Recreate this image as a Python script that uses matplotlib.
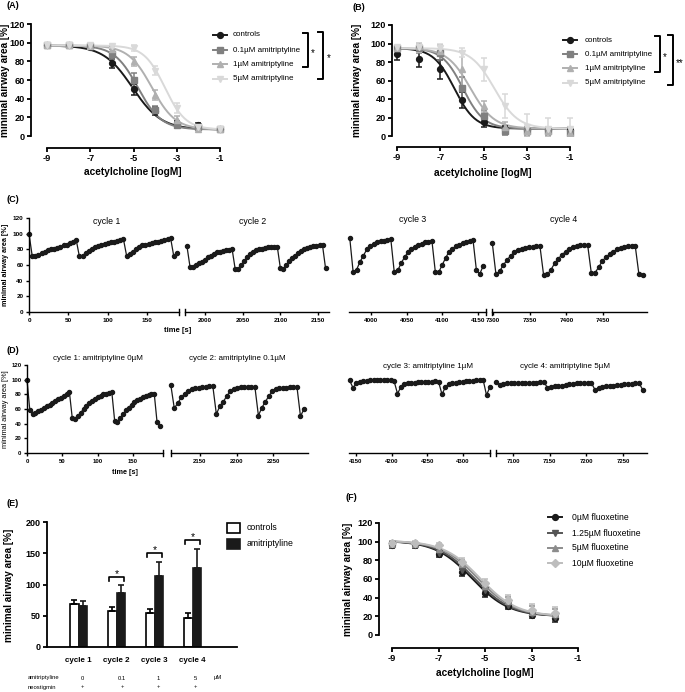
import numpy as np
import matplotlib
matplotlib.use('Agg')
import matplotlib.pyplot as plt
from matplotlib.lines import Line2D
from matplotlib.patches import Rectangle

plt.rcParams['font.family'] = ['Liberation Sans', 'DejaVu Sans']
plt.rcParams['axes.unicode_minus'] = False

# ---------- data ----------
conc = [-9, -8, -7, -6, -5, -4, -3, -2, -1]

# (A) dose response, amitriptyline
a_labels = ['controls', '0.1µM amitriptyline', '1µM amitriptyline', '5µM amitriptyline']
a_ctrl = [97, 97, 95, 78, 50, 27, 13, 12, 8]
a_ctrl_err = [1, 1, 2, 5, 6, 4, 3, 2, 2]
a_01 = [97, 97, 96, 88, 60, 28, 12, 10, 7]
a_01_err = [1, 1, 2, 5, 7, 4, 3, 3, 2]
a_1 = [97, 97, 96, 93, 80, 44, 17, 8, 7]
a_1_err = [1, 1, 2, 3, 5, 5, 4, 2, 2]
a_5 = [97, 97, 97, 96, 94, 70, 30, 10, 7]
a_5_err = [1, 1, 1, 2, 3, 5, 5, 3, 2]
# fit parameters: top, bottom, logEC50, hill slope
a_fits = [(97, 7, -5.05, 0.65), (97, 7, -4.8, 0.8), (97, 7, -4.15, 0.8), (97, 7, -3.55, 0.9)]

# (B) dose response
b_labels = ['controls', '0.1µM amitriptyline', '1µM amitriptyline', '5µM amitriptyline']
b_ctrl = [89, 83, 72, 39, 15, 8, 7, 7, 7]
b_ctrl_err = [7, 8, 10, 9, 5, 3, 3, 3, 3]
b_01 = [95, 95, 90, 52, 22, 5, 5, 5, 3]
b_01_err = [2, 5, 8, 12, 6, 4, 4, 4, 5]
b_1 = [95, 97, 92, 72, 32, 10, 5, 5, 3]
b_1_err = [2, 4, 6, 20, 6, 5, 5, 5, 5]
b_5 = [96, 96, 95, 90, 72, 32, 10, 8, 8]
b_5_err = [2, 5, 5, 5, 12, 13, 14, 12, 12]
b_fits = [(95, 8, -6.35, 0.9), (95, 8, -5.95, 0.9), (95, 8, -5.6, 0.8), (95, 8, -4.5, 0.8)]

# (C) airway traces, 4 cycles: start time, sampling step, values
c_t0 = [0, 1976, 3970, 7299]
c_dt = [4, 4, 4.8, 5]
c1_vals = [100,
           72, 72, 73, 75, 77, 79, 80, 81, 82, 83, 85, 86, 88, 90, 92,
           71, 72, 75, 78, 81, 83, 84, 86, 87, 88, 89, 90, 91, 92, 93,
           72, 74, 77, 81, 83, 85, 86, 87, 88, 89, 90, 91, 92, 93, 94,
           71, 75]
c2_vals = [84,
           58, 57, 60, 62, 64, 66, 70, 72, 74, 76, 77, 78, 79, 79, 80,
           55, 55, 60, 65, 70, 74, 77, 79, 80, 81, 82, 83, 83, 83, 83,
           56, 55, 60, 65, 69, 72, 75, 78, 80, 82, 83, 84, 84, 85, 85,
           56]
c3_vals = [95,
           51, 54, 64, 72, 80, 84, 87, 89, 91, 91, 92, 93,
           51, 53, 62, 70, 76, 80, 83, 86, 87, 89, 90, 91,
           51, 51, 60, 69, 77, 81, 84, 86, 88, 89, 91, 92,
           53, 49, 59]
c4_vals = [88,
           48, 52, 60, 66, 72, 76, 79, 81, 82, 83, 83, 84, 84,
           47, 48, 54, 62, 68, 73, 77, 81, 83, 84, 85, 86, 86,
           50, 50, 57, 65, 70, 74, 77, 80, 82, 83, 84, 84, 84,
           48, 47]
c_titles = ['cycle 1', 'cycle 2', 'cycle 3', 'cycle 4']

# (D) airway traces with amitriptyline
d_t0 = [0, 2110, 4141, 7077]
d_dt = [4, 4.8, 4.8, 5]
d1_vals = [100,
           58, 53, 55, 57, 59, 62, 64, 66, 68, 71, 73, 75, 78, 80, 83,
           48, 46, 50, 55, 60, 64, 68, 71, 74, 76, 78, 80, 81, 82, 83,
           44, 42, 48, 53, 58, 62, 66, 69, 72, 74, 76, 78, 79, 80, 81,
           42, 37]
d2_vals = [93,
           61, 68, 76, 81, 85, 87, 88, 89, 90, 90, 91, 91,
           53, 64, 70, 78, 84, 87, 89, 90, 90, 90, 90, 90,
           51, 62, 70, 78, 84, 87, 88, 89, 89, 90, 90, 90,
           50, 60]
d3_vals = [99,
           89, 95, 97, 98, 98, 99, 99, 99, 99, 99, 99, 99, 98,
           81, 90, 94, 95, 96, 96, 97, 97, 97, 97, 97, 98, 97,
           80, 90, 94, 95, 96, 97, 97, 98, 98, 98, 99, 99, 100,
           79, 90]
d4_vals = [97,
           93, 94, 95, 95, 95, 95, 96, 96, 96, 96, 96, 97, 97,
           89, 90, 91, 91, 92, 93, 94, 94, 95, 95, 95, 95, 95,
           86, 88, 90, 91, 92, 92, 93, 93, 94, 94, 94, 95, 95,
           86]
d_titles = ['cycle 1: amitriptyline 0µM', 'cycle 2: amitriptyline 0.1µM',
            'cycle 3: amitriptyline 1µM', 'cycle 4: amitriptyline 5µM']

# (E) bars
e_cycles = ['cycle 1', 'cycle 2', 'cycle 3', 'cycle 4']
e_ctrl = [69, 57, 55, 47]
e_ctrl_err = [7, 7, 6, 8]
e_ami = [66, 86, 113, 126]
e_ami_err = [7, 13, 23, 31]
e_sig = [None, 112, 150, 171]
e_doses = ['0', '0.1', '1', '5']
e_neo = ['+', '+', '+', '+']

# (F) fluoxetine
f_conc = [-9, -8, -7, -6, -5, -4, -3, -2]
f_labels = ['0µM fluoxetine', '1.25µM fluoxetine', '5µM fluoxetine', '10µM fluoxetine']
f_0 = [96, 96, 87, 67, 45, 31, 21, 18]
f_0_err = [3, 3, 3, 4, 4, 3, 3, 4]
f_125 = [97, 96, 88, 70, 48, 32, 22, 19]
f_125_err = [3, 3, 3, 4, 4, 4, 4, 4]
f_5 = [98, 97, 92, 76, 52, 36, 25, 22]
f_5_err = [3, 3, 3, 4, 5, 5, 6, 6]
f_10 = [99, 99, 96, 78, 56, 38, 27, 24]
f_10_err = [2, 2, 3, 4, 4, 5, 6, 6]
f_fits = [(101, 20, -5.55, 0.55), (101, 20, -5.45, 0.55), (101, 20, -5.3, 0.55), (101, 20, -5.2, 0.55)]

# ---------- figure ----------
W, H = 685, 692
fig = plt.figure(figsize=(W / 100, H / 100), dpi=100)
BLK = '#1a1a1a'


def fx(x):
    return x / W


def fy(y):
    return 1 - y / H


def px_axes(x0, x1, y0, y1):
    ax = fig.add_axes([fx(x0), fy(y1), (x1 - x0) / W, (y1 - y0) / H])
    ax.patch.set_alpha(0)
    return ax


def hill(x, top, bottom, logec50, slope):
    return bottom + (top - bottom) / (1 + 10 ** ((x - logec50) * slope))


def dose_axes(xa, xb, y0, y120, spine_x, axis_y):
    k = (xb - xa) / 8
    ax = px_axes(xa - 0.4 * k, xb + 0.4 * k, y120, y0)
    ax.set_xlim(-9.4, -0.6)
    ax.set_ylim(0, 120)
    ky = (y0 - y120) / 120
    ax.spines['left'].set_position(('data', -9 - (xa - spine_x) / k))
    ax.spines['bottom'].set_position(('data', -(axis_y - y0) / ky))
    ax.spines['left'].set_bounds(0, 120)
    ax.spines['bottom'].set_bounds(-9, -1)
    ax.spines['top'].set_visible(False)
    ax.spines['right'].set_visible(False)
    for s in ('left', 'bottom'):
        ax.spines[s].set_linewidth(1.3)
    ax.set_xticks([-9, -7, -5, -3, -1])
    ax.set_yticks(range(0, 121, 20))
    ax.tick_params(direction='out', length=3, width=1.3, labelsize=6.6, pad=1.5)
    for lab in ax.get_xticklabels() + ax.get_yticklabels():
        lab.set_fontweight('bold')
    return ax


def dose_series(ax, x, ys, errs, fits, colors, marks, xend):
    xs = np.linspace(-9, xend, 200)
    for y, e, p, c, m in zip(ys, errs, fits, colors, marks):
        ax.plot(xs, hill(xs, *p), color=c, lw=1.4, zorder=2)
        ax.errorbar(x, y, yerr=e, fmt=m, color=c, ms=4.2, capsize=2.2,
                    elinewidth=1.1, capthick=1.1, zorder=3)


def legend_rows(xm, xt, ys, colors, marks, labels, fs, ms=4.2):
    for y, c, m, t in zip(ys, colors, marks, labels):
        fig.add_artist(Line2D([fx(xm - 7), fx(xm + 7)], [fy(y), fy(y)], color=c, lw=1.4,
                              transform=fig.transFigure))
        fig.add_artist(Line2D([fx(xm)], [fy(y)], marker=m, color=c, ms=ms, ls='none',
                              transform=fig.transFigure))
        fig.text(fx(xt), fy(y), t, fontsize=fs, va='center', ha='left')


def bracket(x0, x1, ya, yb, star, xs):
    fig.add_artist(Line2D([fx(x0), fx(x1), fx(x1), fx(x0)], [fy(ya), fy(ya), fy(yb), fy(yb)],
                          color='black', lw=1.4, transform=fig.transFigure))
    fig.text(fx(xs), fy((ya + yb) / 2 + 3), star, fontsize=7, ha='center', va='center')


def ylab(x, y, text, fs, weight='bold'):
    fig.text(fx(x), fy(y), text, fontsize=fs, fontweight=weight, rotation=90, ha='center', va='center')


def trace_axes(x0, x1, y0, y120, xlim, xticks, vals, t0, dt, first, breaks, tfs):
    ax = px_axes(x0, x1, y120, y0)
    ax.set_xlim(*xlim)
    ax.set_ylim(0, 120)
    ax.spines['top'].set_visible(False)
    ax.spines['right'].set_visible(False)
    ax.spines['bottom'].set_linewidth(1.0)
    ax.set_xticks(xticks)
    ax.tick_params(direction='out', length=2.5, width=1.0, labelsize=tfs, pad=1.5)
    if first:
        ax.spines['left'].set_linewidth(1.0)
        ax.set_yticks(range(0, 121, 20))
    else:
        ax.spines['left'].set_visible(False)
        ax.set_yticks([])
    for lab in ax.get_xticklabels() + ax.get_yticklabels():
        lab.set_fontweight('bold')
    t = t0 + dt * np.arange(len(vals))
    ax.plot(t, vals, '-o', color=BLK, ms=2.9, lw=0.9, clip_on=False)
    for bx in breaks:
        ax.plot([bx, bx], [-0.035, 0.035], transform=ax.transAxes, color='black', lw=1.0, clip_on=False)
    return ax


# ----- (A) -----
cols_a = [BLK, '#808080', '#b0b0b0', '#d9d9d9']
marks_a = ['o', 's', '^', 'v']
axA = dose_axes(47, 220, 136, 24, 31, 148)
dose_series(axA, conc, [a_ctrl, a_01, a_1, a_5], [a_ctrl_err, a_01_err, a_1_err, a_5_err],
            a_fits, cols_a, marks_a, -1)
fig.text(fx(6), fy(6), '(A)', fontsize=6.5, fontweight='bold', va='center')
ylab(5.5, 80, 'minimal airway area [%]', 7.2)
fig.text(fx(133), fy(172), 'acetylcholine [logM]', fontsize=7.3, fontweight='bold', ha='center', va='center')
legend_rows(220, 233, [35, 50, 64, 79], cols_a, marks_a, a_labels, 5.8)
bracket(303, 308, 33, 67, '*', 313)
bracket(318, 323, 32, 79, '*', 329)

# ----- (B) -----
axB = dose_axes(397, 570, 136, 25, 392, 147)
dose_series(axB, conc, [b_ctrl, b_01, b_1, b_5], [b_ctrl_err, b_01_err, b_1_err, b_5_err],
            b_fits, cols_a, marks_a, -1)
fig.text(fx(353), fy(8), '(B)', fontsize=6.5, fontweight='bold', va='center')
ylab(357, 80, 'minimal airway area [%]', 7.2)
fig.text(fx(483), fy(173), 'acetylcholine [logM]', fontsize=7.3, fontweight='bold', ha='center', va='center')
legend_rows(570, 585, [40, 54, 68, 83], cols_a, marks_a, b_labels, 5.8)
bracket(655, 660, 36, 72, '*', 665)
bracket(668, 673, 35, 85, '**', 680)

# ----- (C) -----
fig.text(fx(6), fy(200), '(C)', fontsize=6.5, fontweight='bold', va='center')
trace_axes(29, 179, 312, 218, (0, 190.6), [0, 50, 100, 150], c1_vals, c_t0[0], c_dt[0], True, [1], 4.6)
trace_axes(185, 329, 312, 218, (1973.4, 2164.6), [2000, 2050, 2100, 2150], c2_vals, c_t0[1], c_dt[1], False, [0], 4.6)
trace_axes(349, 486, 312, 218, (3969, 4161), [4000, 4050, 4100, 4150], c3_vals, c_t0[2], c_dt[2], False, [1], 4.6)
trace_axes(492, 647, 312, 218, (7298.6, 7510), [7300, 7350, 7400, 7450], c4_vals, c_t0[3], c_dt[3], False, [0], 4.6)
for x, y, t in zip([107, 253, 413, 564], [222, 222, 220, 220], c_titles):
    fig.text(fx(x), fy(y), t, fontsize=6.3, ha='center', va='center')
ylab(6, 265, 'minimal airway area [%]', 5.2)
fig.text(fx(178), fy(330), 'time [s]', fontsize=5.5, fontweight='bold', ha='center', va='center')

# ----- (D) -----
fig.text(fx(6), fy(350), '(D)', fontsize=6.5, fontweight='bold', va='center')
trace_axes(27, 163, 453, 365, (0, 192.4), [0, 50, 100, 150], d1_vals, d_t0[0], d_dt[0], True, [1], 4.3)
trace_axes(171, 308, 453, 365, (2110.3, 2297.9), [2150, 2200, 2250], d2_vals, d_t0[1], d_dt[1], False, [0], 4.3)
trace_axes(349, 490, 453, 365, (4140.2, 4337.9), [4150, 4200, 4250, 4300], d3_vals, d_t0[2], d_dt[2], False, [1], 4.3)
trace_axes(496, 647, 453, 365, (7076.8, 7282.7), [7100, 7150, 7200, 7250], d4_vals, d_t0[3], d_dt[3], False, [0], 4.3)
for x, y, t in zip([98, 237, 428, 565], [358, 358, 367, 367], d_titles):
    fig.text(fx(x), fy(y), t, fontsize=5.8, ha='center', va='center')
ylab(6, 409, 'minimal airway area [%]', 5.3, 'normal')
fig.text(fx(125), fy(472), 'time [s]', fontsize=5.2, fontweight='bold', ha='center', va='center')

# ----- (E) -----
fig.text(fx(6), fy(503), '(E)', fontsize=6.5, fontweight='bold', va='center')
axE = px_axes(47, 237, 522, 647)
pos = np.arange(len(e_cycles))
bw = 0.218
axE.bar(pos - bw / 2, e_ctrl, bw, color='white', edgecolor='black', lw=1.2,
        yerr=[[0] * 4, e_ctrl_err], capsize=2, error_kw=dict(elinewidth=1.2, capthick=1.2))
axE.bar(pos + bw / 2, e_ami, bw, color=BLK, edgecolor=BLK, lw=1.2,
        yerr=[[0] * 4, e_ami_err], capsize=2, error_kw=dict(elinewidth=1.2, capthick=1.2, ecolor=BLK))
axE.set_xlim(-0.829, 4.171)
axE.set_ylim(0, 200)
axE.spines['top'].set_visible(False)
axE.spines['right'].set_visible(False)
axE.spines['left'].set_linewidth(1.3)
axE.spines['bottom'].set_linewidth(1.3)
axE.set_yticks([0, 50, 100, 150, 200])
axE.set_xticks(pos)
axE.set_xticklabels(e_cycles)
axE.tick_params(axis='y', direction='out', length=3, width=1.3, labelsize=6.5, pad=1.5)
axE.tick_params(axis='x', length=0, labelsize=5.8, pad=7)
for lab in axE.get_xticklabels() + axE.get_yticklabels():
    lab.set_fontweight('bold')
for i, s in enumerate(e_sig):
    if s is None:
        continue
    axE.plot([i - 0.2, i - 0.2, i + 0.2, i + 0.2], [s - 6, s, s, s - 6], color='black', lw=1.2)
    axE.text(i, s + 5, '*', fontsize=7.5, ha='center', va='center')
ylab(9, 585, 'minimal airway area [%]', 7.2)
fig.add_artist(Rectangle((fx(227), fy(533)), 13 / W, 10 / H, facecolor='white', edgecolor='black',
                         lw=1.2, transform=fig.transFigure))
fig.add_artist(Rectangle((fx(227), fy(549)), 13 / W, 10 / H, facecolor=BLK, edgecolor=BLK,
                         lw=1.2, transform=fig.transFigure))
fig.text(fx(247), fy(528), 'controls', fontsize=6.3, va='center')
fig.text(fx(247), fy(544), 'amitriptyline', fontsize=6.3, va='center')
fig.text(fx(28), fy(678), 'amitriptyline', fontsize=4.2, va='center')
fig.text(fx(28), fy(687), 'neostigmin', fontsize=4.2, va='center')
for x, d, n in zip([82, 122, 158, 195], e_doses, e_neo):
    fig.text(fx(x), fy(678), d, fontsize=4.2, ha='center', va='center')
    fig.text(fx(x), fy(687), n, fontsize=4.2, ha='center', va='center')
fig.text(fx(218), fy(678), 'µM', fontsize=4.2, ha='center', va='center')

# ----- (F) -----
cols_f = [BLK, '#555555', '#8c8c8c', '#bdbdbd']
marks_f = ['o', 'v', '^', 'D']
fig.text(fx(345), fy(498), '(F)', fontsize=6.5, fontweight='bold', va='center')
axF = dose_axes(392, 578, 635, 523, 379, 648)
dose_series(axF, f_conc, [f_0, f_125, f_5, f_10], [f_0_err, f_125_err, f_5_err, f_10_err],
            f_fits, cols_f, marks_f, -2)
ylab(348, 579, 'minimal airway area [%]', 7.2)
fig.text(fx(485), fy(673), 'acetylcholine [logM]', fontsize=7.3, fontweight='bold', ha='center', va='center')
legend_rows(555, 572, [517, 533, 548, 563], cols_f, marks_f, f_labels, 6.2)

fig.savefig('out.png', dpi=100)
